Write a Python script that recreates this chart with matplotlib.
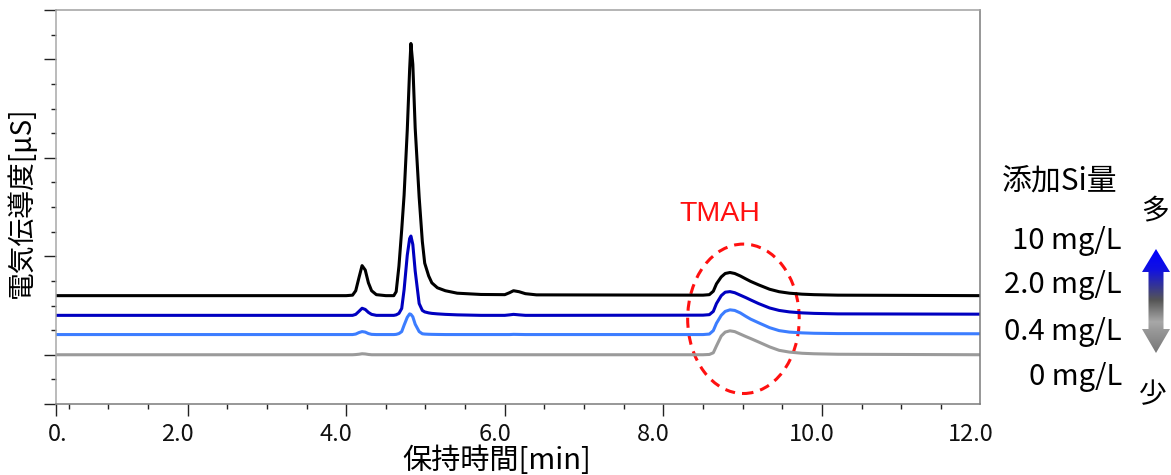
import matplotlib
matplotlib.use('Agg')
import matplotlib.pyplot as plt
from matplotlib.patches import Ellipse, Polygon
from matplotlib.transforms import ScaledTranslation
import matplotlib.colors as mcolors
import numpy as np

plt.rcParams['font.family'] = ['Noto Sans CJK JP', 'DejaVu Sans']

# ---------------- data ----------------
retention_time = [0.333, 4.00, 4.08, 4.12, 4.16, 4.20, 4.24, 4.28, 4.32, 4.38,
                  4.50, 4.60, 4.63, 4.665, 4.70, 4.73, 4.77, 4.80, 4.816, 4.84,
                  4.87, 4.92, 4.96, 4.99, 5.04, 5.08, 5.15, 5.25, 5.40, 5.70,
                  6.00, 6.06, 6.11, 6.18, 6.26, 6.40, 8.50, 8.58, 8.63, 8.67,
                  8.73, 8.78, 8.84, 8.90, 8.97, 9.04, 9.10, 9.20, 9.34, 9.46,
                  9.59, 9.75, 9.90, 10.20, 12.00]

cond_10mg = [0.600, 0.600, 0.605, 0.650, 0.780, 0.905, 0.860, 0.730, 0.650, 0.610,
             0.600, 0.600, 0.640, 0.900, 1.270, 1.620, 2.280, 2.900, 3.160, 2.950,
             2.300, 1.600, 1.150, 0.930, 0.800, 0.730, 0.680, 0.650, 0.625, 0.612,
             0.610, 0.630, 0.650, 0.640, 0.620, 0.608, 0.605, 0.610, 0.645, 0.720,
             0.790, 0.825, 0.835, 0.825, 0.800, 0.770, 0.745, 0.710, 0.665, 0.640,
             0.625, 0.615, 0.610, 0.605, 0.600]

cond_2mg = [0.400, 0.400, 0.400, 0.410, 0.440, 0.472, 0.460, 0.430, 0.410, 0.400,
            0.400, 0.400, 0.405, 0.420, 0.470, 0.660, 1.010, 1.180, 1.205, 1.120,
            0.850, 0.520, 0.450, 0.435, 0.425, 0.420, 0.415, 0.410, 0.405, 0.400,
            0.400, 0.405, 0.410, 0.405, 0.400, 0.400, 0.402, 0.407, 0.440, 0.520,
            0.600, 0.635, 0.641, 0.630, 0.605, 0.580, 0.557, 0.520, 0.475, 0.450,
            0.435, 0.425, 0.420, 0.415, 0.412]

cond_04mg = [0.205, 0.205, 0.205, 0.210, 0.225, 0.235, 0.230, 0.215, 0.207, 0.205,
             0.205, 0.205, 0.207, 0.215, 0.235, 0.300, 0.380, 0.415, 0.410, 0.385,
             0.310, 0.235, 0.213, 0.210, 0.208, 0.207, 0.206, 0.205, 0.205, 0.205,
             0.205, 0.205, 0.207, 0.206, 0.205, 0.205, 0.205, 0.210, 0.245, 0.320,
             0.400, 0.440, 0.456, 0.450, 0.425, 0.390, 0.362, 0.325, 0.275, 0.245,
             0.230, 0.222, 0.218, 0.215, 0.213]

cond_0mg = [0.000, 0.000, 0.000, 0.002, 0.005, 0.010, 0.008, 0.003, 0.000, 0.000,
            0.000, 0.000, 0.000, 0.000, 0.000, 0.000, 0.000, 0.000, 0.000, 0.000,
            0.000, 0.000, 0.000, 0.000, 0.000, 0.000, 0.000, 0.000, 0.000, 0.000,
            0.000, 0.000, 0.000, 0.000, 0.000, 0.000, 0.000, 0.003, 0.020, 0.090,
            0.190, 0.230, 0.243, 0.235, 0.210, 0.185, 0.165, 0.130, 0.080, 0.045,
            0.027, 0.015, 0.010, 0.005, 0.000]

series_labels = ['10 mg/L', '2.0 mg/L', '0.4 mg/L', '0 mg/L']
series_values = [cond_10mg, cond_2mg, cond_04mg, cond_0mg]
series_colors = ['#000000', '#0000c0', '#3c7dff', '#9a9a9a']

x_tick_values = [1/3, 2.0, 4.0, 6.0, 8.0, 10.0, 12.0]
x_tick_labels = ['0.', '2.0', '4.0', '6.0', '8.0', '10.0', '12.0']

# ---------------- figure ----------------
W, H = 1171, 475
fig = plt.figure(figsize=(W / 100, H / 100), dpi=100)
ax = fig.add_axes([55.5 / W, 1 - 404 / H, 925 / W, 394 / H])

for vals, col in zip(series_values[::-1], series_colors[::-1]):
    ax.plot(retention_time, vals, color=col, lw=2.2,
            solid_joinstyle='round', solid_capstyle='butt')

ax.set_xlim(1/3, 12.0)
ax.set_ylim(-0.5, 3.5)

ax.set_xticks(x_tick_values)
ax.set_xticklabels(x_tick_labels)
minor_x = [v for v in np.arange(0.5, 12.0, 0.5) if abs(v / 2 - round(v / 2)) > 1e-6]
ax.set_xticks(minor_x, minor=True)
ax.set_yticks([-0.5, 0, 1, 2, 3, 3.5])
ax.set_yticklabels([])
minor_y = [v for v in np.arange(-0.25, 3.5, 0.25) if abs(v - round(v)) > 1e-6]
ax.set_yticks(minor_y, minor=True)

ax.tick_params(which='major', direction='out', length=8.6, width=1.0,
               color='#222222', pad=5)
ax.tick_params(which='minor', direction='out', length=3.6, width=1.0,
               color='#222222')
ax.tick_params(axis='x', which='major', labelsize=17, labelcolor='#111111')
ax.xaxis.get_major_ticks()[-1].tick1line.set_visible(False)

# label offsets as in reference
for i, lab in enumerate(ax.get_xticklabels()):
    dx = 2 if i == 0 else -10
    lab.set_transform(lab.get_transform() + ScaledTranslation(dx / 100, 0, fig.dpi_scale_trans))

for side, col in [('left', '#a8a8a8'), ('top', '#a0a0a0'),
                  ('right', '#7a7a7a'), ('bottom', '#7a7a7a')]:
    ax.spines[side].set_color(col)
    ax.spines[side].set_linewidth(1.1)

ax.set_xlabel('保持時間[min]', fontsize=21)
ax.xaxis.set_label_coords((497 - 55.5) / 925, -(461 - 404) / 394)
ax.xaxis.label.set_verticalalignment('center')
ax.set_ylabel('電気伝導度[μS]', fontsize=20)
ax.yaxis.set_label_coords((22 - 55.5) / 925, (404 - 202) / 394)
ax.yaxis.label.set_verticalalignment('center')

# TMAH annotation
ax.add_patch(Ellipse((9.01, 0.365), 1.407, 1.517, fill=False,
                     edgecolor='#ff1010', lw=2.2, linestyle=(0, (3.3, 2.3)),
                     clip_on=False))
ax.text(8.706, 1.424, 'TMAH', color='#ff1010', fontsize=20.5,
        family=['Liberation Sans', 'DejaVu Sans'], ha='center', va='center')

# legend-like texts
fig.text(1059.5 / W, 1 - 181 / H, '添加Si量', fontsize=21.5, ha='center', va='center')
for lab, ypx in zip(series_labels, [241, 285, 332, 377]):
    fig.text(1122 / W, 1 - ypx / H, lab, fontsize=21, ha='right', va='center')
fig.text(1155 / W, 1 - 210 / H, '多', fontsize=20, ha='center', va='center')
fig.text(1153 / W, 1 - 395 / H, '少', fontsize=20, ha='center', va='center')

# gradient double arrow
oax = fig.add_axes([0, 0, 1, 1])
oax.set_xlim(0, W)
oax.set_ylim(H, 0)
oax.axis('off')
cx, hw, sw = 1156, 14, 7.5
ytip, yh1, yh2, ybot = 249, 272, 329, 353
poly = Polygon([(cx, ytip), (cx + hw, yh1), (cx + sw, yh1), (cx + sw, yh2),
                (cx + hw, yh2), (cx, ybot), (cx - hw, yh2), (cx - sw, yh2),
                (cx - sw, yh1), (cx - hw, yh1)], closed=True,
               facecolor='none', edgecolor='none')
oax.add_patch(poly)
stops_y = [249, 270, 285, 300, 322, 330, 353]
stops_c = ['#0000ff', '#1212e0', '#333399', '#555555', '#a8a8a8', '#999999', '#777777']
rgb = np.array([mcolors.to_rgb(c) for c in stops_c])
yy = np.linspace(ytip, ybot, 200)
grad = np.stack([np.interp(yy, stops_y, rgb[:, k]) for k in range(3)], axis=-1)
grad = np.repeat(grad[:, None, :], 2, axis=1)
im = oax.imshow(grad, extent=(cx - hw - 1, cx + hw + 1, ybot, ytip),
                origin='upper', aspect='auto', interpolation='bilinear')
im.set_clip_path(poly)
oax.set_xlim(0, W)
oax.set_ylim(H, 0)

fig.savefig('out.png', dpi=100)
